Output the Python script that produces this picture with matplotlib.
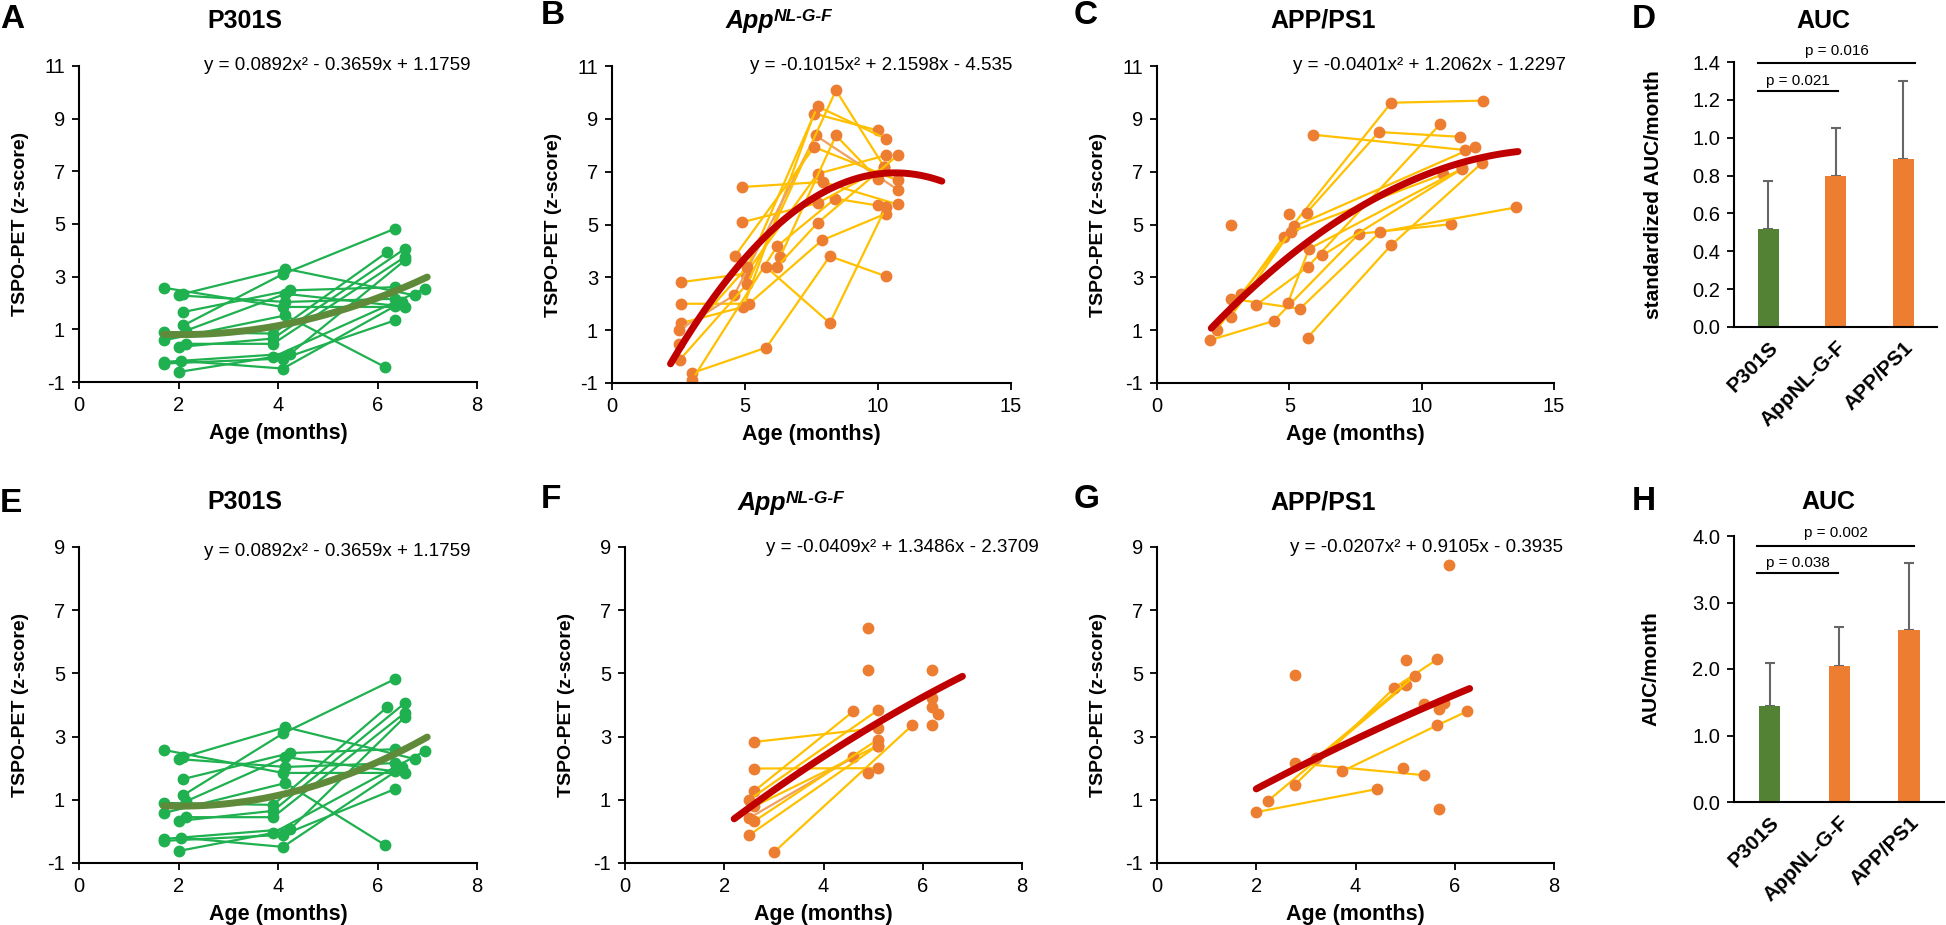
import numpy as np
import matplotlib.pyplot as plt

plt.rcParams['font.family'] = ['Liberation Sans', 'DejaVu Sans']
plt.rcParams['axes.unicode_minus'] = False

# ---- data -------------------------------------------------------------
# P301S (panels A and E show the same trajectories)
p301_age = [
    [1.70, 4.10, 6.55], [2.00, 4.15, 6.35], [2.10, 4.15, 6.75], [2.10, 4.25, 6.35],
    [2.10, 4.10, 6.35], [1.70, 3.90, 6.20], [1.70, 4.15, 6.15], [2.00, 3.90, 6.55],
    [2.15, 3.90, 6.55], [1.70, 4.25, 6.55], [1.70, 4.10, 6.35], [2.05, 4.10, 6.50],
    [2.00, 3.90, 6.95], [2.15, 4.15, 6.35],
]
p301_tspo = [
    [2.58, 1.85, 1.85], [2.29, 2.04, 2.16], [2.35, 3.30, 2.29], [1.66, 2.48, 2.60],
    [1.15, 3.10, 4.82], [0.90, 0.84, 3.94], [0.58, 1.53, -0.43], [0.33, 0.65, 4.06],
    [0.45, 0.45, 3.75], [-0.24, 0.08, 3.62], [-0.30, -0.11, 1.34], [-0.20, -0.49, 2.04],
    [-0.62, -0.05, 2.54], [0.95, 2.35, 1.90],
]

# App NL-G-F, full follow-up (B)
b_age = [
    [2.61, 5.03, 7.73, 10.30], [2.61, 5.15, 7.89, 10.30], [2.61, 4.94, 7.60, 9.99],
    [2.51, 4.59, 7.66, 10.74], [2.51, 5.09, 7.73, 10.30], [2.55, 5.09, 8.42, 10.24],
    [3.02, 5.80, 8.19, 10.30], [3.02, 6.20, 8.39, 9.99], [4.90, 7.92, 10.74],
    [4.90, 7.73, 10.24], [4.61, 7.60, 10.74], [5.78, 8.19, 10.30], [6.32, 8.42, 9.99],
    [6.20, 7.73, 10.74],
]
b_tspo = [
    [2.82, 3.14, 6.92, 7.62], [2.00, 2.00, 4.40, 5.41], [1.27, 1.88, 9.20, 8.56],
    [1.00, 2.32, 8.37, 6.32], [0.49, 3.40, 9.47, 8.25], [-0.12, 2.76, 10.08, 7.17],
    [-0.62, 0.34, 3.80, 3.04], [-0.87, 4.17, 5.98, 5.72], [6.42, 6.61, 5.76],
    [5.09, 5.81, 7.17], [3.79, 7.93, 6.67], [3.40, 1.27, 5.66], [3.77, 8.37, 6.73],
    [3.40, 5.06, 7.62],
]
b_orange = [3]

# APP/PS1, full follow-up (C)
c_age = [
    [2.00, 4.41, 7.63, 11.10], [2.25, 4.78, 8.85, 12.33], [2.81, 5.40, 8.44, 13.58],
    [2.78, 5.19, 12.02], [3.73, 5.69, 10.69], [3.19, 5.06, 10.81], [4.94, 5.75, 11.53],
    [5.69, 8.84, 12.29], [5.88, 11.64], [5.65, 8.38, 11.45], [6.25, 11.52],
    [2.81], [5.00],
]
c_tspo = [
    [0.62, 1.35, 4.65, 5.01], [1.00, 4.53, 9.61, 9.69], [2.19, 1.81, 4.72, 5.65],
    [1.50, 4.93, 7.94], [1.94, 3.39, 8.79], [2.38, 4.72, 6.90], [2.03, 4.08, 7.12],
    [0.72, 4.21, 7.34], [8.40, 7.82], [5.44, 8.50, 8.32], [3.83, 7.10],
    [4.97], [5.41],
]

# App NL-G-F, early follow-up (F)
f_age = [
    [2.60, 5.09], [2.60, 5.09], [2.60, 4.60], [2.50, 5.09], [2.60, 5.09], [2.50, 4.60],
    [2.60, 5.09], [2.50, 5.09], [3.00, 5.79], [4.90], [4.90], [4.90], [6.19], [6.19],
    [6.19], [6.31], [6.19],
]
f_tspo = [
    [2.83, 3.27], [1.99, 2.00], [1.27, 3.80], [1.00, 3.83], [0.79, 2.71], [0.42, 2.34],
    [0.32, 2.90], [-0.12, 2.71], [-0.66, 3.36], [6.44], [5.10], [1.85], [5.10], [4.22],
    [3.94], [3.73], [3.36],
]
f_orange = [5]

# APP/PS1, early follow-up (G)
g_age = [
    [2.00, 4.43], [2.24, 5.02], [2.78, 4.78, 5.65], [2.78, 5.38], [3.73, 5.65, 6.25],
    [3.21, 5.19], [2.78], [5.02], [4.95], [5.69], [5.78], [5.38], [5.69], [5.89],
]
g_tspo = [
    [0.61, 1.34], [0.97, 4.64], [1.48, 4.54, 5.45], [2.16, 1.78], [1.90, 3.36, 3.80],
    [2.32, 4.91], [4.96], [5.43], [2.01], [3.86], [4.05], [4.03], [0.72], [8.42],
]

# quadratic fits shown on the panels
fit_a = [0.0892, -0.3659, 1.1759]
fit_b = [-0.1015, 2.1598, -4.535]
fit_c = [-0.0401, 1.2062, -1.2297]
fit_f = [-0.0409, 1.3486, -2.3709]
fit_g = [-0.0207, 0.9105, -0.3935]

# AUC bars
groups = ['P301S', 'AppNL-G-F', 'APP/PS1']
d_auc = [0.52, 0.80, 0.89]
d_sd = [0.25, 0.25, 0.41]
h_auc = [1.44, 2.05, 2.59]
h_sd = [0.65, 0.58, 1.01]

# ---- style --------------------------------------------------------------
W, H = 1946, 925
GREEN = '#1fb04f'
GREEN_FIT = '#5f8a3a'
BAR_GREEN = '#548235'
ORANGE = '#ed7d31'
YELLOW = '#ffc000'
LIGHT_OR = '#f0a060'
RED = '#c00000'

fig = plt.figure(figsize=(W / 100, H / 100), dpi=100)


def box(l, t, r, b):
    return [l / W, 1 - b / H, (r - l) / W, (b - t) / H]


def style(ax):
    for s in ['top', 'right']:
        ax.spines[s].set_visible(False)
    for s in ['left', 'bottom']:
        ax.spines[s].set_linewidth(1.5)
    ax.tick_params(direction='out', length=5, width=1.3, labelsize=14.5, pad=5)


def spaghetti(rect, ages, vals, fit, span, xmax, xstep, ymax, mcol, lcol, fcol, orange=()):
    ax = fig.add_axes(box(*rect))
    for i, (xs, ys) in enumerate(zip(ages, vals)):
        c = LIGHT_OR if i in orange else lcol
        ax.plot(xs, ys, '-o', color=c, lw=1.6, ms=7.5, mfc=mcol, mec=mcol, zorder=2)
    xf = np.linspace(span[0], span[1], 100)
    ax.plot(xf, np.polyval(fit, xf), color=fcol, lw=5, solid_capstyle='round', zorder=3)
    ax.set_xlim(0, xmax)
    ax.set_ylim(-1, ymax)
    ax.set_xticks(np.arange(0, xmax + 0.1, xstep))
    ax.set_yticks(np.arange(-1, ymax + 0.1, 2))
    style(ax)
    ax.set_xlabel('Age (months)', fontsize=15.5, fontweight='bold')
    ax.xaxis.set_label_coords(0.5, -0.13)
    ax.set_ylabel('TSPO-PET (z-score)', fontsize=14, fontweight='bold')
    ax.yaxis.set_label_coords(-0.125, 0.5)
    return ax


def bars(rect, vals, sds, ylim, ystep, fmt, ylabel, lines, ptxt):
    ax = fig.add_axes(box(*rect))
    x = np.arange(len(groups))
    ax.bar(x, vals, width=0.31, color=[BAR_GREEN, ORANGE, ORANGE], zorder=2)
    ax.errorbar(x, vals, yerr=[np.zeros(len(sds)), sds], fmt='none', ecolor='#666666',
                elinewidth=1.5, capsize=3.5, capthick=1.5, zorder=1)
    ax.set_xlim(-0.51, 2.5)
    ax.set_ylim(0, ylim)
    ax.set_yticks(np.arange(0, ylim + 0.01, ystep))
    ax.set_yticklabels([fmt.format(v) for v in np.arange(0, ylim + 0.01, ystep)])
    ax.set_xticks(x)
    style(ax)
    ax.set_xticklabels(groups, rotation=45, ha='right', rotation_mode='anchor',
                       fontweight='bold', fontsize=15)
    ax.tick_params(axis='x', length=0, pad=8)
    ax.set_ylabel(ylabel, fontsize=15, fontweight='bold')
    ax.yaxis.set_label_coords(-0.35, 0.5)
    for (x0, x1, y), (tx, ty, t) in zip(lines, ptxt):
        ax.plot([x0, x1], [y, y], color='black', lw=1.5, clip_on=False)
        ax.text(tx, ty, t, ha='center', va='center', fontsize=11)
    return ax


# ---- panels -------------------------------------------------------------
spaghetti((79, 66, 477, 382), p301_age, p301_tspo, fit_a, (1.7, 7.0), 8, 2, 11,
          GREEN, GREEN, GREEN_FIT)
spaghetti((612, 66, 1011, 383), b_age, b_tspo, fit_b, (2.2, 12.4), 15, 5, 11,
          ORANGE, YELLOW, RED, b_orange)
spaghetti((1157, 66, 1554, 383), c_age, c_tspo, fit_c, (2.05, 13.64), 15, 5, 11,
          ORANGE, YELLOW, RED)
bars((1734, 62, 1937, 327), d_auc, d_sd, 1.4, 0.2, '{:.1f}', 'standardized AUC/month',
     [(-0.16, 1.03, 1.246), (-0.16, 2.18, 1.394)],
     [(0.44, 1.30, 'p = 0.021'), (1.01, 1.46, 'p = 0.016')])

spaghetti((79, 547, 477, 863), p301_age, p301_tspo, fit_a, (1.7, 7.0), 8, 2, 9,
          GREEN, GREEN, GREEN_FIT)
spaghetti((625, 547, 1022, 863), f_age, f_tspo, fit_f, (2.2, 6.8), 8, 2, 9,
          ORANGE, YELLOW, RED, f_orange)
spaghetti((1157, 547, 1554, 863), g_age, g_tspo, fit_g, (2.0, 6.3), 8, 2, 9,
          ORANGE, YELLOW, RED)
bars((1734, 536, 1944, 802), h_auc, h_sd, 4.0, 1.0, '{:.1f}', 'AUC/month',
     [(-0.175, 0.976, 3.44), (-0.175, 2.07, 3.85)],
     [(0.40, 3.60, 'p = 0.038'), (0.95, 4.05, 'p = 0.002')])

# ---- texts --------------------------------------------------------------
def ftext(x, y, s, **kw):
    fig.text(x / W, 1 - y / H, s, **kw)


for x, y, s in [(0, 20, 'A'), (541, 16, 'B'), (1074, 16, 'C'), (1632, 20, 'D'),
                (0, 503, 'E'), (541, 500, 'F'), (1074, 500, 'G'), (1632, 502, 'H')]:
    ftext(x, y, s, fontsize=24, fontweight='bold', ha='left', va='center')

for x, y, s in [(245, 21, 'P301S'), (1323, 21, 'APP/PS1'), (1823, 21, 'AUC'),
                (245, 502, 'P301S'), (1323, 502, 'APP/PS1'), (1828, 502, 'AUC')]:
    ftext(x, y, s, fontsize=18, fontweight='bold', ha='center', va='center')

for x, y in [(726, 28), (738, 510)]:
    ftext(x, y, 'App', fontsize=18, fontweight='bold', style='italic', ha='left', va='baseline')
    ftext(x + 48, y - 7, 'NL-G-F', fontsize=12.5, fontweight='bold', style='italic',
          ha='left', va='baseline')

for x, y, s in [(470, 66, 'y = 0.0892x² - 0.3659x + 1.1759'),
                (1012, 66, 'y = -0.1015x² + 2.1598x - 4.535'),
                (1566, 66, 'y = -0.0401x² + 1.2062x - 1.2297'),
                (470, 552, 'y = 0.0892x² - 0.3659x + 1.1759'),
                (1039, 548, 'y = -0.0409x² + 1.3486x - 2.3709'),
                (1563, 548, 'y = -0.0207x² + 0.9105x - 0.3935')]:
    ftext(x, y, s, fontsize=13.5, ha='right', va='center')

fig.savefig('out.png', dpi=100)
